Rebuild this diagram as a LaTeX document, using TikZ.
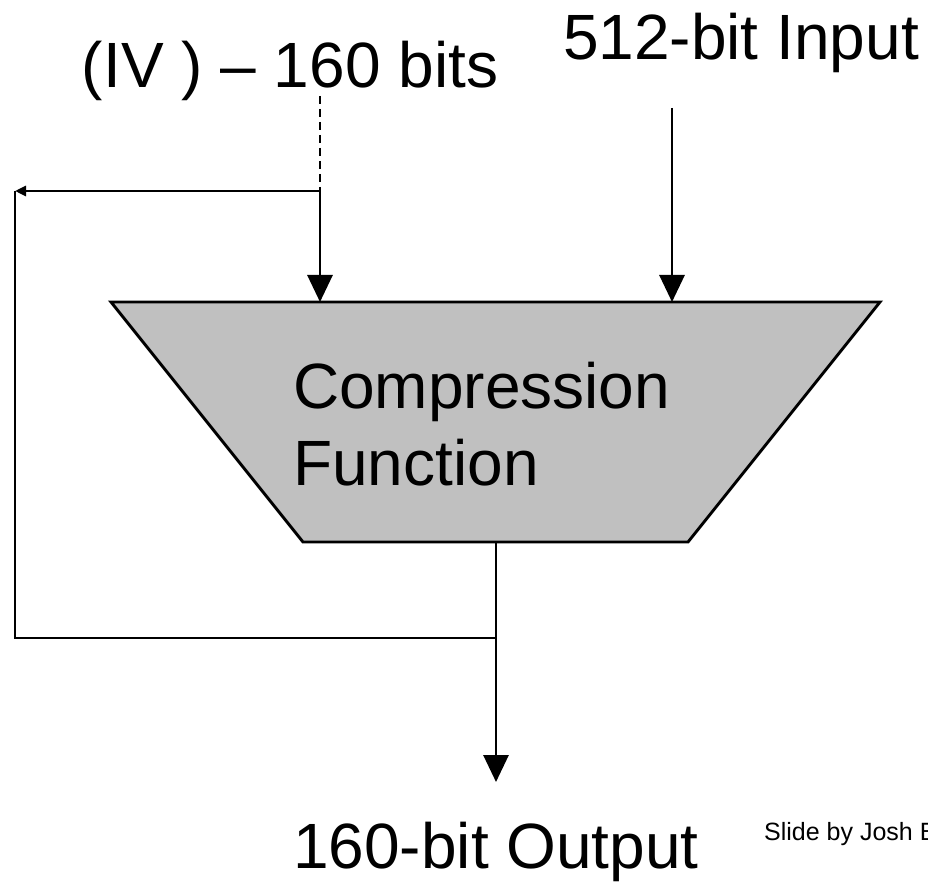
\documentclass[tikz,border=0pt]{standalone}
\usepackage{fontspec}
\setmainfont{Liberation Sans}
\usetikzlibrary{arrows.meta}
\definecolor{trapfill}{HTML}{C0C0C0}
\begin{document}
\begin{tikzpicture}[x=1pt,y=-1pt,
  wire/.style={line width=2.9pt, line join=miter},
  bigtip/.style={-{Triangle[length=27pt,width=25pt]}},
  smalltip/.style={-{Triangle[length=11pt,width=10pt]}},
  bigtext/.style={font=\fontsize{64}{77}\selectfont, inner sep=0pt},
  smalltext/.style={font=\fontsize{25}{30}\selectfont, inner sep=0pt},
  dashwire/.style={wire, dash pattern=on 8pt off 5pt}
]
\useasboundingbox (0,0) rectangle (928,882);
\clip (0,0) rectangle (928,882);
% trapezoid
\coordinate (tl) at (111,302);
\coordinate (tr) at (880,302);
\coordinate (br) at (688,542);
\coordinate (bl) at (303,542);
\filldraw[wire, fill=trapfill] (tl) -- (tr) -- (br) -- (bl) -- cycle;
\node[bigtext, anchor=base west] (cf1) at (293,408) {Compression};
\node[bigtext, anchor=base west] (cf2) at (293,485) {Function};
% labels
\node[bigtext, anchor=base] (iv) at (290,88) {(IV ) – 160 bits};
\node[bigtext, anchor=base] (inp) at (741,60) {512-bit Input};
\node[bigtext, anchor=base] (out) at (496,868) {160-bit Output};
\node[smalltext, anchor=base west] (slide) at (764,840) {Slide by Josh B};
% connector points
\coordinate (ivtop) at (320,96);
\coordinate (ivsplit) at (320,191);
\coordinate (ivin) at (320,302);
\coordinate (fbtop) at (15,191);
\coordinate (fbbot) at (15,638);
\coordinate (outj) at (496,638);
\coordinate (outtop) at (496,542);
\coordinate (outend) at (496,782);
\coordinate (intop) at (672,108);
\coordinate (inin) at (672,302);
% connectors
\draw[dashwire] (ivtop) -- (ivsplit);
\draw[wire, bigtip] (ivsplit) -- (ivin);
\draw[wire, smalltip] (ivsplit) -- (fbtop);
\draw[wire] (outj) -- (fbbot) -- (fbtop);
\draw[wire] (outtop) -- (outj);
\draw[wire, bigtip] (outj) -- (outend);
\draw[wire, bigtip] (intop) -- (inin);
\end{tikzpicture}
\end{document}
